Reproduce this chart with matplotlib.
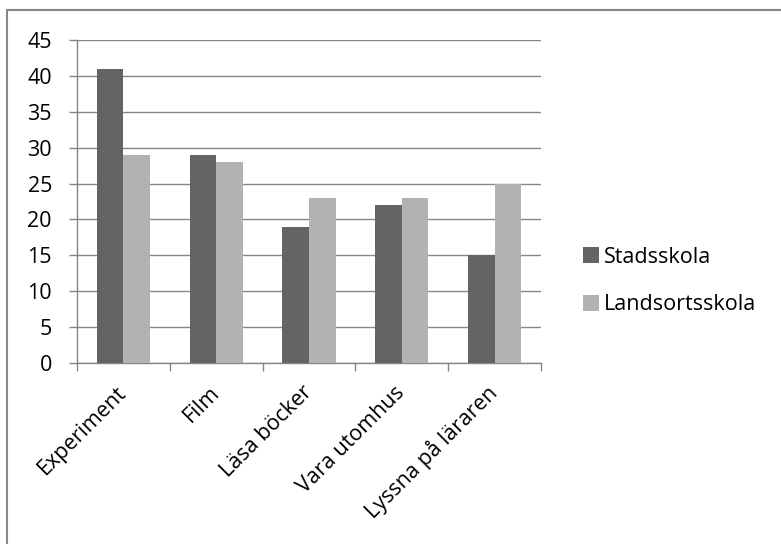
import matplotlib
matplotlib.use("Agg")
import matplotlib.pyplot as plt
import numpy as np
from matplotlib.patches import Rectangle

categories = ["Experiment", "Film", "Läsa böcker", "Vara utomhus", "Lyssna på läraren"]
stadsskola = [41, 29, 19, 22, 15]
landsortsskola = [29, 28, 23, 23, 25]
series_names = ["Stadsskola", "Landsortsskola"]
yticks = [0, 5, 10, 15, 20, 25, 30, 35, 40, 45]

plt.rcParams['font.family'] = ['Open Sans', 'DejaVu Sans']
FS = 15.5

W, H = 781, 544
fig = plt.figure(figsize=(W / 100, H / 100), dpi=100)

# outer chart frame
fig.patches.append(Rectangle((7.5 / W, -0.1), (W + 50) / W, 1 - 10.5 / H + 0.1,
                             transform=fig.transFigure, fill=False,
                             edgecolor='#868686', linewidth=1.5))

ax = fig.add_axes([77 / W, 1 - 363 / H, (541 - 77) / W, (363 - 40) / H])

x = np.arange(len(categories))
w = 1 / 3.5
dark = '#646464'
light = '#b2b2b2'
ax.bar(x - w / 2, stadsskola, width=w, color=dark, label=series_names[0], zorder=3)
ax.bar(x + w / 2, landsortsskola, width=w, color=light, label=series_names[1], zorder=3)

ax.set_xlim(-0.5, len(categories) - 0.5)
ax.set_ylim(0, 45)
ax.set_yticks(yticks)
ax.set_yticklabels([str(v) for v in yticks], fontsize=FS)
ax.yaxis.grid(True, color='#868686', linewidth=1, zorder=0)

ax.set_xticks(np.arange(len(categories) + 1) - 0.5)
ax.set_xticklabels([])
ax.set_xticks(x, minor=True)
ax.set_xticklabels(categories, minor=True, rotation=45, ha='right', va='center',
                   rotation_mode='anchor', fontsize=FS)
ax.tick_params(axis='x', which='minor', length=0, pad=19)
ax.tick_params(axis='x', which='major', length=6, color='#868686', width=1)
ax.tick_params(axis='y', length=6, color='#868686', width=1, pad=12)

for s in ['top', 'right']:
    ax.spines[s].set_visible(False)
for s in ['left', 'bottom']:
    ax.spines[s].set_color('#868686')
    ax.spines[s].set_linewidth(1)

leg = fig.legend(loc='center left', bbox_to_anchor=(583 / W, 1 - 281 / H),
                 frameon=False, fontsize=FS, handlelength=0.75, handleheight=0.75,
                 handletextpad=0.2, labelspacing=1.25, borderpad=0, borderaxespad=0)

fig.savefig("out.png", dpi=100)
